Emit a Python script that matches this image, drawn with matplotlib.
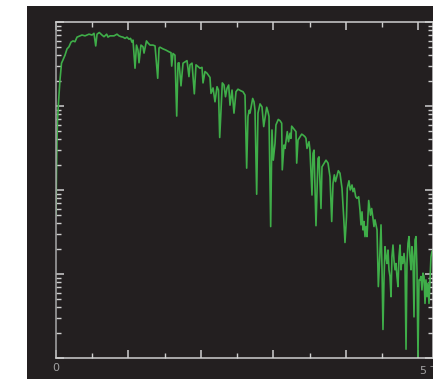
import matplotlib
matplotlib.use("Agg")
import matplotlib.pyplot as plt
import numpy as np
from matplotlib.patches import Rectangle
from matplotlib.ticker import MultipleLocator, LogLocator, NullFormatter

# transmitted THz spectrum, frequency in THz, amplitude in dB (arb. ref.)
freq_thz = [
    0.000, 0.007, 0.014, 0.021, 0.034, 0.055, 0.076, 0.097, 0.124, 0.152,
    0.179, 0.207, 0.234, 0.262, 0.290, 0.331, 0.359, 0.400, 0.428, 0.455,
    0.497, 0.524, 0.548, 0.566, 0.597, 0.634, 0.662, 0.699, 0.717, 0.745,
    0.772, 0.800, 0.841, 0.869, 0.897, 0.924, 0.952, 0.979, 1.007, 1.028,
    1.048, 1.062, 1.090, 1.110, 1.131, 1.145, 1.172, 1.200, 1.214, 1.248,
    1.269, 1.297, 1.338, 1.366, 1.403, 1.421, 1.434, 1.476, 1.517, 1.559,
    1.586, 1.596, 1.614, 1.641, 1.665, 1.683, 1.697, 1.724, 1.752, 1.779,
    1.807, 1.834, 1.848, 1.876, 1.908, 1.931, 1.959, 1.986, 2.014, 2.028,
    2.055, 2.083, 2.124, 2.138, 2.166, 2.193, 2.221, 2.241, 2.258, 2.294,
    2.317, 2.338, 2.359, 2.382, 2.400, 2.428, 2.455, 2.483, 2.510, 2.552,
    2.579, 2.607, 2.630, 2.648, 2.666, 2.676, 2.713, 2.731, 2.745, 2.768,
    2.786, 2.814, 2.841, 2.865, 2.906, 2.924, 2.938, 2.961, 2.979, 2.997,
    3.021, 3.034, 3.066, 3.090, 3.113, 3.121, 3.145, 3.159, 3.190, 3.207,
    3.228, 3.241, 3.251, 3.283, 3.310, 3.320, 3.338, 3.389, 3.407, 3.434,
    3.448, 3.462, 3.490, 3.503, 3.531, 3.545, 3.559, 3.586, 3.614, 3.628,
    3.655, 3.669, 3.724, 3.752, 3.779, 3.803, 3.821, 3.839, 3.855, 3.894,
    3.917, 3.945, 3.968, 3.986, 4.007, 4.018, 4.041, 4.059, 4.083, 4.097,
    4.114, 4.134, 4.152, 4.175, 4.193, 4.207, 4.221, 4.234, 4.248, 4.262,
    4.276, 4.290, 4.313, 4.338, 4.354, 4.372, 4.386, 4.400, 4.414, 4.428,
    4.446, 4.466, 4.483, 4.497, 4.510, 4.524, 4.538, 4.552, 4.566, 4.579,
    4.593, 4.607, 4.621, 4.634, 4.648, 4.662, 4.676, 4.690, 4.703, 4.717,
    4.731, 4.745, 4.759, 4.772, 4.786, 4.800, 4.814, 4.828, 4.841, 4.855,
    4.869, 4.883, 4.897, 4.910, 4.924, 4.938, 4.952, 4.966, 4.979, 4.993,
    5.007, 5.021, 5.034, 5.048, 5.062, 5.076, 5.090, 5.103, 5.117, 5.131,
    5.145, 5.159, 5.172, 5.186, 5.200,
]
amp_db = [
    34.0, 44.8, 51.9, 56.7, 60.7, 66.2, 70.2, 71.0, 72.1, 73.6,
    74.1, 75.2, 75.5, 75.3, 76.4, 76.7, 76.9, 76.7, 76.9, 77.1,
    76.9, 77.3, 74.3, 77.1, 77.5, 76.9, 76.5, 77.1, 76.4, 76.7,
    76.7, 76.7, 77.1, 76.7, 76.5, 76.4, 76.1, 76.4, 75.9, 76.1,
    75.2, 75.7, 69.0, 74.5, 73.3, 70.3, 74.5, 74.1, 72.6, 75.5,
    75.0, 74.5, 74.5, 74.3, 66.6, 73.8, 74.0, 73.6, 73.3, 72.9,
    72.7, 69.5, 72.5, 72.1, 57.6, 70.2, 70.3, 64.8, 70.2, 70.5,
    70.8, 67.0, 69.8, 70.2, 62.9, 69.8, 69.4, 69.0, 69.2, 65.5,
    68.2, 67.8, 66.8, 63.0, 64.3, 61.0, 64.6, 63.8, 52.5, 65.5,
    65.0, 62.2, 64.2, 65.0, 60.2, 63.8, 58.3, 63.4, 64.0, 63.6,
    63.4, 62.6, 45.2, 57.5, 59.0, 58.3, 61.8, 61.0, 59.0, 39.0,
    58.3, 60.5, 59.8, 55.1, 59.7, 58.6, 57.5, 31.3, 54.3, 47.1,
    51.1, 55.5, 56.8, 56.5, 55.9, 44.8, 50.7, 49.9, 53.9, 51.5,
    53.5, 52.3, 55.2, 54.5, 53.9, 46.4, 51.9, 53.3, 53.1, 52.7,
    52.3, 49.9, 51.5, 49.5, 38.8, 48.7, 49.5, 31.5, 47.5, 47.9,
    35.6, 45.5, 47.1, 46.4, 43.2, 32.5, 41.6, 43.6, 42.0, 44.6,
    44.0, 40.4, 33.6, 27.5, 33.6, 40.4, 42.2, 40.0, 41.2, 39.6,
    40.4, 38.4, 38.0, 38.4, 35.2, 31.7, 34.8, 30.5, 32.5, 28.9,
    31.3, 28.9, 37.5, 34.0, 35.6, 33.3, 31.3, 32.9, 31.7, 30.5,
    17.0, 24.1, 31.7, 21.0, 6.8, 18.6, 26.5, 24.1, 22.5, 25.7,
    21.0, 19.4, 14.6, 24.1, 26.9, 23.3, 21.0, 22.5, 19.4, 17.0,
    24.1, 26.9, 21.0, 24.1, 22.5, 24.9, 22.5, 2.1, 22.5, 27.3,
    28.9, 24.1, 21.0, 26.5, 24.1, 9.8, 28.1, 28.9, 21.0, 0.3,
    18.6, 18.6, 19.4, 16.2, 20.2, 19.4, 13.0, 18.6, 14.6, 17.8,
    13.0, 18.6, 24.1, 25.3, 25.7,
]

bg = "#231f20"
spine_col = "#cfcfcf"
line_col = "#3fae49"

fig = plt.figure(figsize=(4.33, 3.79), dpi=100, facecolor="white")
# dark panel behind the plot
fig.patches.append(Rectangle((27 / 433, 0), 1, 373 / 379, transform=fig.transFigure,
                             facecolor=bg, edgecolor="none", zorder=-10))

ax = fig.add_axes([56 / 433, 21 / 379, 377.5 / 433, 336 / 379])
ax.set_facecolor(bg)

amp = 10 ** (np.array(amp_db) / 20)
ax.plot(freq_thz, amp, color=line_col, lw=1.2)

ax.set_yscale("log")
ax.set_ylim(1, 1e4)
ax.set_xlim(0, 5.207)

ax.xaxis.set_major_locator(MultipleLocator(1))
ax.xaxis.set_minor_locator(MultipleLocator(0.5))
ax.yaxis.set_major_locator(LogLocator(base=10, numticks=10))
ax.yaxis.set_minor_locator(LogLocator(base=10, subs=np.arange(2, 10), numticks=20))
ax.yaxis.set_major_formatter(NullFormatter())
ax.yaxis.set_minor_formatter(NullFormatter())
ax.set_xticks([0, 1, 2, 3, 4, 5])
ax.set_xticklabels(["0", "", "", "", "", ""])

for s in ax.spines.values():
    s.set_color(spine_col)
    s.set_linewidth(1.1)
ax.spines["left"].set_color("#a8a8a8")

ax.tick_params(which="both", direction="in", top=True, right=True, colors=spine_col,
               labelcolor="#a0a0a0", labelsize=8, pad=3.5)
ax.tick_params(which="major", length=6, width=1.1)
ax.tick_params(which="minor", length=3.5, width=1.0)

ax.text(5.02, -0.024, "5 THz", transform=ax.get_xaxis_transform(), color="#a0a0a0",
        fontsize=8, ha="left", va="top")

fig.savefig("out.png", dpi=100, facecolor="white")
